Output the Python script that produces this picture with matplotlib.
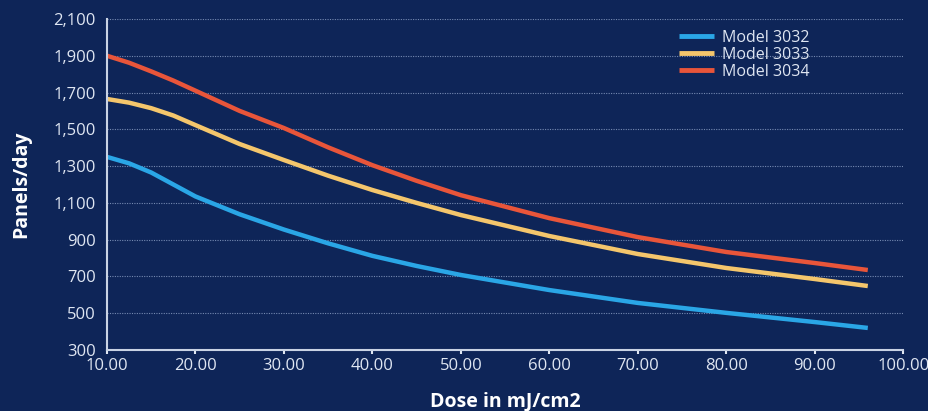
import matplotlib
matplotlib.use("Agg")
import matplotlib.pyplot as plt
from matplotlib.ticker import FuncFormatter

dose = [10, 12.5, 15, 17.5, 20, 25, 30, 35, 40, 45, 50, 60, 70, 80, 90, 96]
model_3032 = [1350, 1315, 1265, 1200, 1135, 1038, 955, 880, 812, 757, 708, 626, 556, 502, 452, 420]
model_3033 = [1665, 1645, 1615, 1575, 1523, 1420, 1333, 1248, 1170, 1100, 1034, 920, 822, 746, 686, 648]
model_3034 = [1900, 1862, 1815, 1765, 1710, 1600, 1507, 1402, 1305, 1220, 1142, 1017, 914, 833, 773, 735]

y_ticks = list(range(300, 2101, 200))
x_ticks = list(range(10, 101, 10))

series = [("Model 3032", model_3032, "#2aa6e6"),
          ("Model 3033", model_3033, "#f4c66c"),
          ("Model 3034", model_3034, "#e8553a")]

bg = "#0e2558"
fg = "#dfe6f2"
plt.rcParams["font.family"] = ["Open Sans", "DejaVu Sans"]

fig = plt.figure(figsize=(9.29, 4.11), dpi=100, facecolor=bg)
ax = fig.add_axes([0.1152, 0.1484, 0.857, 0.8054], facecolor=bg)

for name, vals, col in series:
    ax.plot(dose, vals, color=col, lw=3.2, solid_capstyle="butt",
            solid_joinstyle="round", label=name)

ax.set_xlim(10, 100)
ax.set_ylim(300, 2100)
ax.set_xticks(x_ticks)
ax.set_yticks(y_ticks)
ax.xaxis.set_major_formatter(FuncFormatter(lambda v, p: f"{v:.2f}"))
ax.yaxis.set_major_formatter(FuncFormatter(lambda v, p: f"{v:,.0f}"))

ax.grid(axis="y", color="#8fa3c8", lw=0.8, ls=(0, (1, 1.2)), alpha=0.8)
ax.set_axisbelow(True)
for s in ("top", "right"):
    ax.spines[s].set_visible(False)
for s in ("left", "bottom"):
    ax.spines[s].set_color("#c9d3e4")
    ax.spines[s].set_linewidth(1.5)
ax.tick_params(axis="x", colors=fg, labelsize=12, length=3, width=1.5, pad=3)
ax.tick_params(axis="y", colors=fg, labelsize=12, length=0, pad=8)

ax.set_xlabel("Dose in mJ/cm2", color="white", fontsize=14, fontweight="bold", labelpad=12)
ax.set_ylabel("Panels/day", color="white", fontsize=14, fontweight="bold", labelpad=16)

leg = ax.legend(loc="upper left", bbox_to_anchor=(0.7, 1.01), frameon=False,
                prop={"family": ["Open Sans", "DejaVu Sans"], "size": 11.5},
                handlelength=2.2, handletextpad=0.5,
                labelspacing=0.05, labelcolor=fg)
for h in leg.get_lines():
    h.set_linewidth(3.5)

fig.savefig("out.png", dpi=100, facecolor=bg)
